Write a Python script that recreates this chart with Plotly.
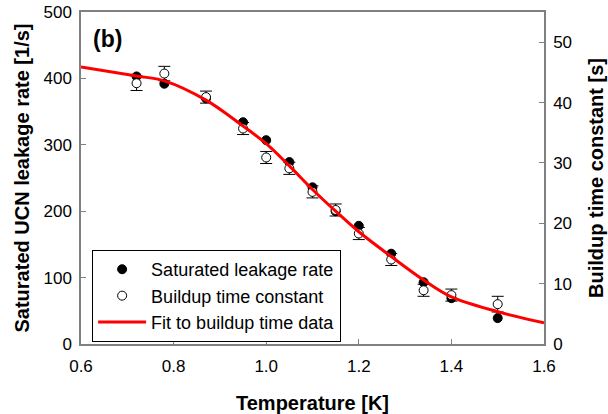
import plotly.graph_objs as go

# temperatures of the measurements [K]
temps = [0.72, 0.78, 0.87, 0.95, 1.00, 1.05, 1.10, 1.15, 1.20, 1.27, 1.34, 1.40, 1.50]

# saturated leakage rate [1/s] (left axis)
leak_rate = [403, 392, 370, 334, 307, 274, 236, 200, 178, 136, 93, 69, 39]

# buildup time constant [s] (right axis) and its error
buildup = [43.2, 44.8, 40.9, 35.7, 30.9, 29.1, 25.2, 22.2, 18.3, 14.0, 8.9, 8.1, 6.6]
buildup_err = [1.2, 1.2, 1.0, 1.0, 1.0, 1.0, 1.0, 1.0, 1.0, 1.0, 1.0, 1.0, 1.3]

# fit curve [s]
fit_t = [0.60, 0.72, 0.78, 0.87, 0.95, 1.00, 1.05, 1.10, 1.15, 1.20, 1.27, 1.34, 1.40, 1.50, 1.60]
fit_tau = [45.9, 44.4, 43.6, 40.4, 36.1, 33.2, 29.5, 25.6, 22.0, 18.6, 14.5, 10.6, 7.8, 5.35, 3.5]

font = "Arial, Liberation Sans, sans-serif"
axis_grey = "#808080"

fig = go.Figure()

fig.add_trace(go.Scatter(
    x=temps, y=leak_rate, mode="markers", name="Saturated leakage rate",
    marker=dict(color="black", size=9, line=dict(color="black", width=1)),
    yaxis="y"
))

fig.add_trace(go.Scatter(
    x=temps, y=buildup, mode="markers", name="Buildup time constant",
    marker=dict(color="white", size=9, line=dict(color="black", width=1)),
    error_y=dict(type="data", array=buildup_err, color="black", thickness=1, width=6),
    yaxis="y2"
))

fig.add_trace(go.Scatter(
    x=fit_t, y=fit_tau, mode="lines", name="Fit to buildup time data",
    line=dict(color="#ff0000", width=3, shape="spline", smoothing=1.0),
    yaxis="y2"
))

fig.update_layout(
    width=608, height=414,
    margin=dict(l=81, r=64, t=12, b=70, autoexpand=False),
    paper_bgcolor="white", plot_bgcolor="white",
    font=dict(family=font, size=17, color="black"),
    showlegend=True,
    legend=dict(
        x=0.024, y=0.283, xanchor="left", yanchor="top",
        bordercolor="black", borderwidth=1, bgcolor="white",
        font=dict(size=18), tracegroupgap=0, itemwidth=48,
    ),
    xaxis=dict(
        range=[0.6, 1.6], tickvals=[0.6, 0.8, 1.0, 1.2, 1.4, 1.6], tickformat=".1f",
        ticks="inside", ticklen=5, tickcolor=axis_grey, tickwidth=1,
        showline=True, linecolor=axis_grey, linewidth=1.5, mirror=True,
        showgrid=False, zeroline=False, automargin=False, ticklabelstandoff=6,
        title=dict(text="<b>Temperature [K]</b>", font=dict(size=20), standoff=22),
    ),
    yaxis=dict(
        range=[0, 500], tickvals=[0, 100, 200, 300, 400, 500],
        ticks="inside", ticklen=5, tickcolor=axis_grey, tickwidth=1,
        showline=True, linecolor=axis_grey, linewidth=1.5,
        showgrid=False, zeroline=False, automargin=False, ticklabelstandoff=4,
        title=dict(text="<b>Saturated UCN leakage rate [1/s]</b>", font=dict(size=20), standoff=8),
    ),
    yaxis2=dict(
        range=[0, 55], tickvals=[0, 10, 20, 30, 40, 50],
        overlaying="y", side="right",
        ticks="inside", ticklen=5, tickcolor=axis_grey, tickwidth=1,
        showline=True, linecolor=axis_grey, linewidth=1.5,
        showgrid=False, zeroline=False, automargin=False, ticklabelstandoff=4,
        title=dict(text="<b>Buildup time constant [s]</b>", font=dict(size=20), standoff=18),
    ),
    annotations=[dict(
        text="<b>(b)</b>", x=0.022, y=0.965, xref="paper", yref="paper",
        xanchor="left", yanchor="top", showarrow=False,
        font=dict(size=23, color="black"),
    )],
)

# drop the default page margin so the figure sits at the window corner
fig.write_html("out.html", config={"displayModeBar": False},
               post_script=["document.body.style.margin = '0';"])
